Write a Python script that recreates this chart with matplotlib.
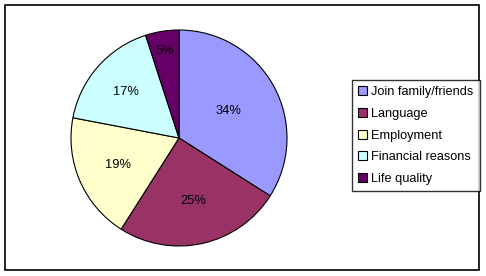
import numpy as np
import matplotlib
matplotlib.use("Agg")
import matplotlib.pyplot as plt
from matplotlib.patches import Rectangle

categories = ["Join family/friends", "Language", "Employment", "Financial reasons", "Life quality"]
shares = [34, 25, 19, 17, 5]
colors = ["#9999FF", "#993366", "#FFFFCC", "#CCFFFF", "#660066"]
label_dist = [0.52, 0.6, 0.62, 0.65, 0.82]  # where Excel put each % label

plt.rcParams["font.family"] = ["Liberation Sans", "DejaVu Sans"]

W, H = 486, 276
fig = plt.figure(figsize=(W / 100, H / 100), dpi=100)

# outer chart border
fig.patches.append(Rectangle((5 / W, 6 / H), 474 / W, 265 / H, transform=fig.transFigure,
                             fill=False, edgecolor="black", linewidth=1.2))

cx, cy, r = 179, 138, 108
ax = fig.add_axes([(cx - r) / W, (H - cy - r) / H, 2 * r / W, 2 * r / H])
wedges, _ = ax.pie(shares, colors=colors, startangle=90, counterclock=False,
                   wedgeprops=dict(edgecolor="black", linewidth=0.8))
ax.set_xlim(-1, 1)
ax.set_ylim(-1, 1)
ax.set_aspect("auto")

# percentage labels
for w, v, d in zip(wedges, shares, label_dist):
    a = np.deg2rad((w.theta1 + w.theta2) / 2)
    ax.text(d * np.cos(a), d * np.sin(a), f"{v}%", ha="center", va="center", fontsize=9.3)

leg = fig.legend(wedges, categories, loc="upper left", bbox_to_anchor=(352 / W, 1 - 80 / H),
                 fontsize=9.2, frameon=True, fancybox=False, borderpad=0.5,
                 handlelength=0.7, handleheight=0.7, handletextpad=0.3,
                 labelspacing=0.75, borderaxespad=0)
leg.get_frame().set_edgecolor("black")
leg.get_frame().set_linewidth(1.0)

fig.savefig("out.png", dpi=100)
